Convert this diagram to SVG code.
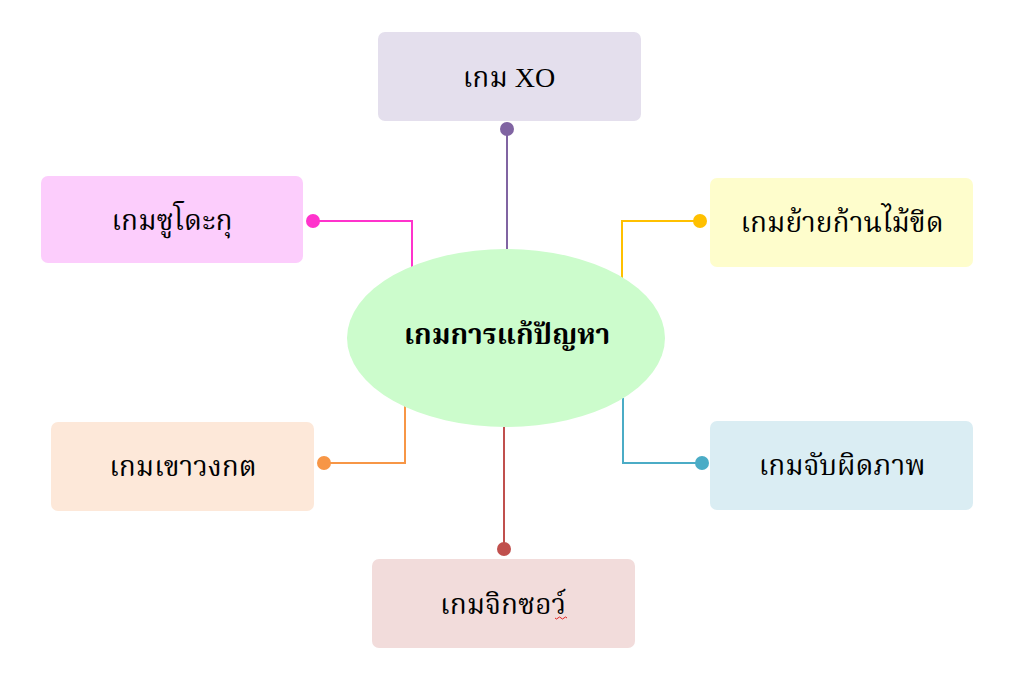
<svg xmlns="http://www.w3.org/2000/svg" width="1024" height="694" viewBox="0 0 1024 694">
<style>
.lbl{font-family:"Liberation Serif","Noto Serif Thai","Noto Sans Thai",serif;font-size:28px;fill:#000;text-anchor:middle;dominant-baseline:central}
.ctr{font-weight:bold}
.ln{fill:none;stroke-width:2}
</style>
<rect width="1024" height="694" fill="#ffffff"/>
<g id="connectors">
<path class="ln" stroke="#8064a2" d="M507 129 V251"/>
<path class="ln" stroke="#ff33cc" d="M313 221 H412 V268"/>
<path class="ln" stroke="#ffc000" d="M700 221 H622 V278"/>
<path class="ln" stroke="#f79646" d="M324 463 H405 V405"/>
<path class="ln" stroke="#4bacc6" d="M702 463 H623 V398"/>
<path class="ln" stroke="#c0504d" d="M504 549 V427"/>
<circle cx="507" cy="129" r="7" fill="#8064a2"/>
<circle cx="313" cy="221" r="7" fill="#ff33cc"/>
<circle cx="700" cy="221" r="7" fill="#ffc000"/>
<circle cx="324" cy="463" r="7" fill="#f79646"/>
<circle cx="702" cy="463" r="7" fill="#4bacc6"/>
<circle cx="504" cy="549" r="7" fill="#c0504d"/>
</g>
<g id="center">
<ellipse cx="506" cy="338" rx="159" ry="89" fill="#ccfccc"/>
<text class="lbl ctr" x="507" y="334">เกมการแก้ปัญหา</text>
</g>
<g id="xo">
<rect x="378" y="32" width="263" height="89" rx="7" fill="#e4dfed"/>
<text class="lbl" x="509" y="77">เกม XO</text>
</g>
<g id="sudoku">
<rect x="41" y="176" width="262" height="87" rx="7" fill="#fccdfc"/>
<text class="lbl" x="172" y="220">เกมซูโดะกุ</text>
</g>
<g id="matchstick">
<rect x="710" y="178" width="263" height="89" rx="7" fill="#fefdcc"/>
<text class="lbl" x="842" y="222">เกมย้ายก้านไม้ขีด</text>
</g>
<g id="maze">
<rect x="51" y="422" width="263" height="89" rx="7" fill="#fde8d9"/>
<text class="lbl" x="183" y="466">เกมเขาวงกต</text>
</g>
<g id="spotdiff">
<rect x="710" y="421" width="263" height="89" rx="7" fill="#daedf3"/>
<text class="lbl" x="842" y="465">เกมจับผิดภาพ</text>
</g>
<g id="jigsaw">
<rect x="372" y="559" width="263" height="89" rx="7" fill="#f2dcdb"/>
<text class="lbl" x="503" y="604">เกมจิกซอว์</text>
<path d="M555 618 q1.5 2 3 0 t3 0 t3 0 t3 0" fill="none" stroke="#e02020" stroke-width="1"/>
</g>
</svg>
